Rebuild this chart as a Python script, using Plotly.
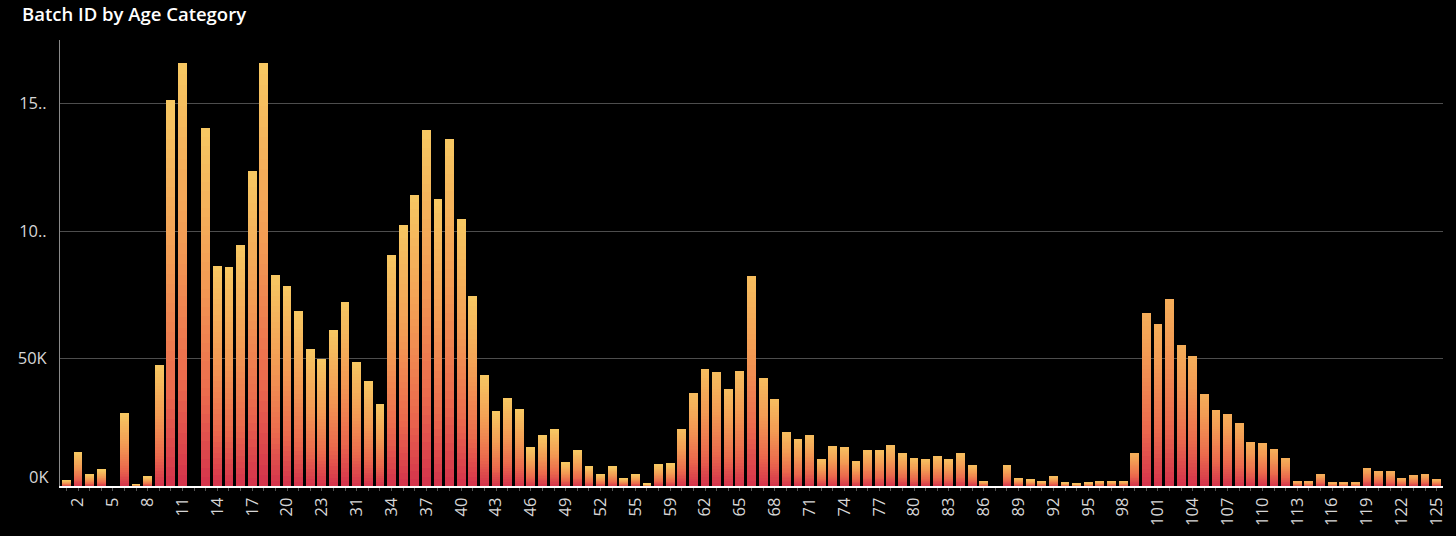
import plotly.graph_objects as go

# ---------------- data ----------------
categories = [str(i) for i in range(1, 24)] + ["24", "30"] + \
             [str(i) for i in range(31, 56)] + ["56", "58"] + \
             [str(i) for i in range(59, 126)]

batch_values_k = [
    2.3, 13.2, 4.5, 6.3, 0, 28.7, 0.7, 3.6, 47.5, 151.3,          # 1-10
    165.8, 0, 140.5, 86.5, 85.8, 94.4, 123.5, 165.8, 82.9, 78.3,  # 11-20
    68.6, 53.9, 49.9, 61.4, 72.2,                                 # 21,22,23,24,30
    48.8, 41.3, 32.1, 90.5, 102.5, 114.3, 139.6, 112.7, 136.1, 104.7,  # 31-40
    74.5, 43.6, 29.4, 34.5, 30.3, 15.1, 20.1, 22.3, 9.2, 13.9,    # 41-50
    7.6, 4.7, 7.6, 3.1, 4.7,                                      # 51-55
    0.8, 8.3,                                                     # 56,58
    8.7, 22.5, 36.6, 45.9, 44.8, 38.0, 45.3, 82.5, 42.4, 34.0,    # 59-68
    21.1, 18.4, 20.1, 10.3, 15.5, 15.0, 9.6, 13.9, 13.9, 16.0,    # 69-78
    12.7, 10.8, 10.3, 11.6, 10.3, 12.7, 8.2, 1.9, 0, 8.2,         # 79-88
    3.1, 2.4, 1.9, 3.7, 1.3, 0.8, 1.3, 1.9, 1.9, 1.9,             # 89-98
    12.7, 68.0, 63.5, 73.3, 55.5, 50.9, 36.0, 29.9, 28.1, 24.6,   # 99-108
    17.2, 16.7, 14.4, 10.8, 1.7, 1.7, 4.5, 1.2, 1.2, 1.2,         # 109-118
    7.0, 5.7, 5.7, 3.1, 4.1, 4.5, 2.4,                            # 119-125
]
values = [v * 1000 for v in batch_values_k]

tick_labels = ["2", "5", "8", "11", "14", "17", "20", "23", "31", "34", "37",
               "40", "43", "46", "49", "52", "55", "59", "62", "65", "68", "71",
               "74", "77", "80", "83", "86", "89", "92", "95", "98", "101", "104",
               "107", "110", "113", "116", "119", "122", "125"]

y_tick_values = [0, 50000, 100000, 150000]
y_tick_text = ["0K", "50K", "10..", "15.."]

# ---------------- styling helpers ----------------
stops = [(0.0, (212, 50, 76)), (0.25, (235, 106, 77)),
         (0.58, (243, 156, 84)), (1.0, (247, 200, 98))]


def ramp(t):
    t = max(0.0, min(1.0, t))
    for (t0, c0), (t1, c1) in zip(stops[:-1], stops[1:]):
        if t <= t1:
            f = (t - t0) / (t1 - t0) if t1 > t0 else 0
            return "rgb(%d,%d,%d)" % tuple(round(a + (b - a) * f) for a, b in zip(c0, c1))
    return "rgb(%d,%d,%d)" % stops[-1][1]


def top_tone(cat):
    n = int(cat)
    if n < 60:
        return 1.0
    if n < 99:
        return 0.9
    return 0.75


N_SEG = 40
fig = go.Figure()
for k in range(N_SEG):
    frac = (k + 0.5) / N_SEG
    colors = [ramp(frac * top_tone(c)) for c in categories]
    fig.add_trace(go.Bar(
        x=categories,
        y=[v / N_SEG for v in values],
        marker=dict(color=colors, line=dict(width=0)),
        showlegend=False,
        hoverinfo="skip",
    ))

tick_text_all = [c if c in tick_labels else "" for c in categories]
y_text_axis = ["" if v == 0 else t for v, t in zip(y_tick_values, y_tick_text)]

fig.update_layout(
    width=1456, height=536,
    barmode="stack",
    bargap=0.24,
    paper_bgcolor="black",
    plot_bgcolor="black",
    margin=dict(l=60, r=13, t=40, b=50),
    title=dict(text="Batch ID by Age Category", x=22 / 1456, xanchor="left",
               xref="container", y=1 - 15 / 536, yanchor="middle", yref="container",
               font=dict(family="Open Sans", size=18.5, color="white", weight=600)),
    font=dict(family="Open Sans", color="#d6d6d6"),
    xaxis=dict(
        type="category",
        categoryorder="array",
        categoryarray=categories,
        tickmode="array",
        tickvals=categories,
        ticktext=tick_text_all,
        tickangle=-90,
        tickfont=dict(size=16.5, color="#d6d6d6"),
        ticks="outside", ticklen=3, tickcolor="#555555", tickwidth=1,
        showline=True, linecolor="white", linewidth=2,
        showgrid=False,
        automargin=False,
        range=[-0.55, len(categories) - 0.45],
    ),
    yaxis=dict(
        range=[0, 175000],
        tickmode="array",
        tickvals=y_tick_values,
        ticktext=y_text_axis,
        tickfont=dict(size=16.5, color="#d6d6d6"),
        showgrid=True, gridcolor="#4d4d4d", gridwidth=1,
        zeroline=False,
        showline=True, linecolor="#8a8a8a", linewidth=1,
        ticks="", ticklabelstandoff=9,
        automargin=False,
    ),
)

# the zero label sits just above the baseline, as in the original
fig.add_annotation(x=0, xref="paper", xanchor="right", xshift=-9,
                   y=y_tick_values[0], yref="y", yanchor="middle", yshift=10,
                   text=y_tick_text[0], showarrow=False,
                   font=dict(family="Open Sans", size=16.5, color="#d6d6d6"))

fig.write_html("out.html",
               config={"displayModeBar": False},
               post_script="document.body.style.margin='0';document.body.style.overflow='hidden';")
